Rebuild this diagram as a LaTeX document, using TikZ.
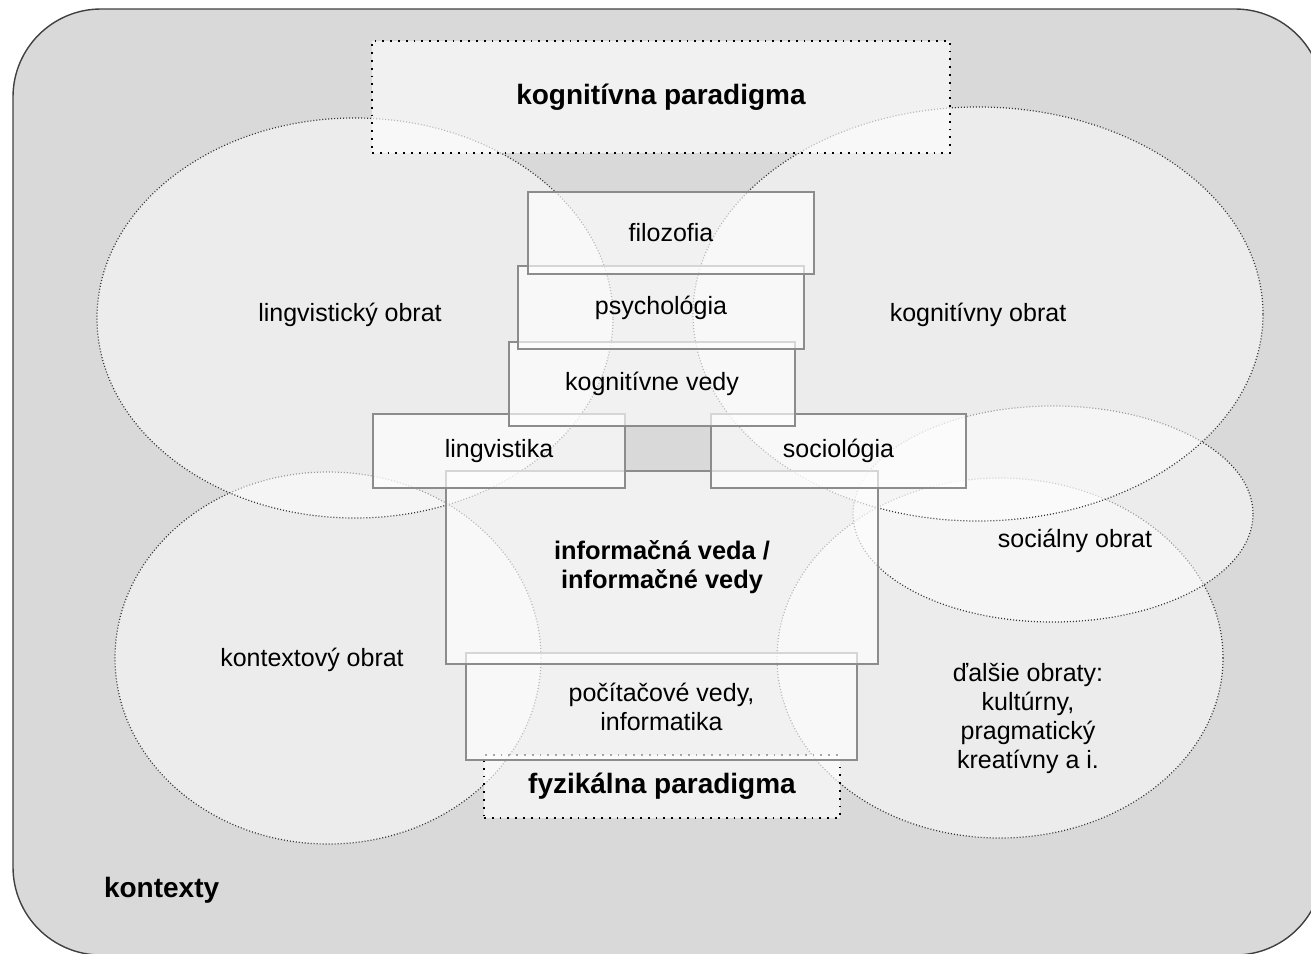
\documentclass[tikz,border=0pt]{standalone}
\usepackage{fontspec}
\setmainfont{Liberation Sans}
\usetikzlibrary{shapes.geometric}
\definecolor{pozadie}{HTML}{D9D9D9}
\def\normal{\fontsize{12.5}{14.5}\selectfont}
\def\tucne{\fontsize{14}{14.5}\selectfont\bfseries}

\begin{document}
\begin{tikzpicture}[x=0.5pt,y=-0.5pt,
    obrat/.style={ellipse,draw=black!80,line width=0.6pt,dash pattern=on 0.5pt off 1pt,
        fill=white,fill opacity=0.5,inner sep=0pt},
    veda/.style={rectangle,draw=black!45,line width=0.6pt,fill=white,fill opacity=0.65,
        text opacity=1,inner sep=0pt,align=center,font=\normal},
    paradigma/.style={rectangle,draw=black,line width=0.9pt,dash pattern=on 0.9pt off 3pt,
        fill=white,fill opacity=0.65,text opacity=1,inner sep=0pt,font=\tucne},
    popis/.style={font=\normal,align=center}]
    \useasboundingbox (0,0) rectangle (1311,953);
    \clip (0,0) rectangle (1311,953);
    % kontexty
    \draw[draw=black!75,line width=0.7pt,fill=pozadie,rounded corners=44pt] (13,9) rectangle (1323,955);
    % obraty
    \node[obrat,minimum width=213pt,minimum height=186pt] (kontextobrat) at (328,658) {};
    \node[obrat,minimum width=223pt,minimum height=180pt] (dalsieobrat) at (1000,658) {};
    \node[obrat,minimum width=200pt,minimum height=108pt] (socobrat) at (1053,514) {};
    \node[obrat,minimum width=258pt,minimum height=200pt] (lingobrat) at (355,318) {};
    \node[obrat,minimum width=285pt,minimum height=207pt] (kognobrat) at (978,314) {};
    % vedy, zdola nahor
    \node[paradigma,minimum width=178pt,minimum height=31.5pt] (fyzparadigma) at (662,786.5) {fyzikálna paradigma};
    \node[veda,minimum width=195.5pt,minimum height=53.5pt] (pocitacove) at (661.5,706.5) {počítačové vedy,\\informatika};
    \node[veda,minimum width=216pt,minimum height=96.5pt,font=\fontsize{12.7}{14.5}\selectfont\bfseries] (infoveda) at (662,567.5) {informačná veda /\\informačné vedy};
    \node[veda,minimum width=126pt,minimum height=37pt] (lingvistika) at (499,451) {lingvistika};
    \node[veda,minimum width=127.5pt,minimum height=37pt] (sociologia) at (838.5,451) {sociológia};
    \node[veda,minimum width=143pt,minimum height=42pt] (kogvedy) at (652,384) {kognitívne vedy};
    \node[veda,minimum width=143pt,minimum height=41.5pt] (psychologia) at (661,307.5) {psychológia};
    \node[veda,minimum width=143pt,minimum height=41pt] (filozofia) at (671,233) {filozofia};
    \node[paradigma,minimum width=289pt,minimum height=56pt] (kogparadigma) at (661,97) {kognitívna paradigma};
    % popisy obratov
    \node[popis] (linglabel) at (350,315) {lingvistický obrat};
    \node[popis] (kognlabel) at (978,315) {kognitívny obrat};
    \node[popis] (soclabel) at (1075,541) {sociálny obrat};
    \node[popis] (kontextlabel) at (312,660) {kontextový obrat};
    \node[popis] (dalsielabel) at (1028,718) {ďalšie obraty:\\kultúrny,\\pragmatický\\kreatívny a i.};
    \node[font=\tucne,anchor=west] (kontexty) at (97,890) {kontexty};
\end{tikzpicture}
\end{document}
